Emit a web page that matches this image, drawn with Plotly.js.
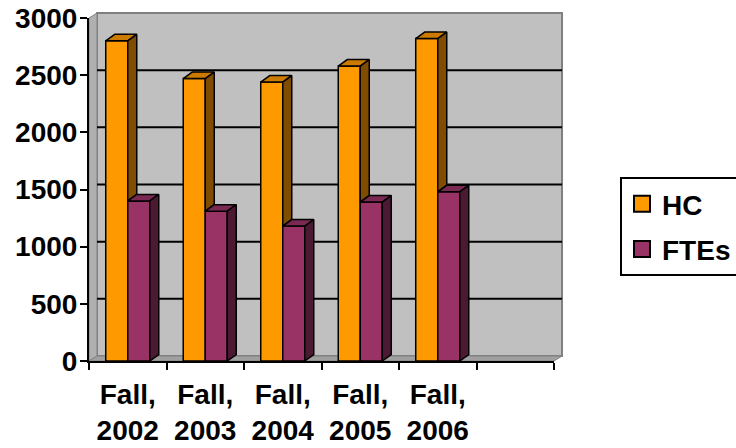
<!DOCTYPE html>
<html>
<head>
<meta charset="utf-8">
<script src="https://cdn.plot.ly/plotly-3.0.1.min.js"></script>
<style>html,body{margin:0;padding:0;background:#fff;}#chart{width:736px;height:448px;}</style>
</head>
<body>
<div id="chart"></div>
<script>
// ---- data ----
const categories = ['Fall, 2002', 'Fall, 2003', 'Fall, 2004', 'Fall, 2005', 'Fall, 2006'];
const hcValues  = [2800, 2470, 2440, 2580, 2820];
const fteValues = [1400, 1310, 1180, 1390, 1480];
const seriesNames = ['HC', 'FTEs'];
const yTickValues = [0, 500, 1000, 1500, 2000, 2500, 3000];

// ---- styling / geometry ----
const W = 736, H = 448;
const M = {l: 89, r: 182, t: 18, b: 87};
const plotW = W - M.l - M.r, plotH = H - M.t - M.b;
const slots = categories.length + 1;           // one empty slot at the right
const yMax = 3000;
const bargap = 0.432;
const halfW = (1 - bargap) / 2;                // width of one bar in data units
const pxX = slots / plotW, pxY = yMax / plotH; // data units per pixel
const barDX = 9 * pxX, barDY = 6.5 * pxY;      // bar depth
const wallDX = 8 / plotW, wallDY = 5 / plotH;  // wall depth (paper units)
const wallDYdata = 5 * pxY;

const colHC = '#FF9900', colHCtop = '#CC7A00', colHCside = '#7F4C00';
const colFT = '#993366', colFTtop = '#7A2952', colFTside = '#4C1933';
const font = {family: 'Liberation Sans, Arial, sans-serif', size: 28, color: '#000', weight: 'bold'};

const xs = categories.map((_, i) => i);
const traces = [
  {type: 'bar', x: xs, y: hcValues, name: seriesNames[0], showlegend: false, hoverinfo: 'skip',
   marker: {color: colHC, line: {color: '#000', width: 1.5}}},
  {type: 'bar', x: xs, y: fteValues, name: seriesNames[1], showlegend: false, hoverinfo: 'skip',
   marker: {color: colFT, line: {color: '#000', width: 1.5}}}
];
function face(px, py, color) {
  traces.push({type: 'scatter', mode: 'lines', x: px.concat([px[0]]), y: py.concat([py[0]]),
    fill: 'toself', fillcolor: color, line: {color: '#000', width: 1.5},
    showlegend: false, hoverinfo: 'skip'});
}
xs.forEach(i => {
  const h = hcValues[i], f = fteValues[i];
  // HC top
  face([i - halfW, i, i + barDX, i - halfW + barDX], [h, h, h + barDY, h + barDY], colHCtop);
  // HC side (visible part above FTE bar)
  face([i, i + barDX, i + barDX, i], [f, f + barDY, h + barDY, h], colHCside);
  // FTE top
  face([i, i + halfW, i + halfW + barDX, i + barDX], [f, f, f + barDY, f + barDY], colFTtop);
  // FTE side
  face([i + halfW, i + halfW + barDX, i + halfW + barDX, i + halfW], [0, barDY, f + barDY, f], colFTside);
});
// legend entries
[[seriesNames[0], colHC], [seriesNames[1], colFT]].forEach(([n, c], k) => {
  traces.push({type: 'scatter', mode: 'markers', x: [null], y: [null], name: n, legendgroup: 'g' + k,
    marker: {symbol: 'square', size: 16, color: c, line: {color: '#000', width: 2}}, hoverinfo: 'skip'});
});

const shapes = [];
// back wall
shapes.push({type: 'rect', xref: 'paper', yref: 'paper', layer: 'below',
  x0: wallDX, x1: 1 + wallDX, y0: wallDY, y1: 1 + wallDY,
  fillcolor: '#C0C0C0', line: {color: '#808080', width: 2}});
// left wall
shapes.push({type: 'path', xref: 'paper', yref: 'paper', layer: 'below',
  path: `M0,0 L${wallDX},${wallDY} L${wallDX},${1 + wallDY} L0,1 Z`,
  fillcolor: '#B0B0B0', line: {color: '#808080', width: 1}});
// floor
shapes.push({type: 'path', xref: 'paper', yref: 'paper', layer: 'below',
  path: `M0,0 L1,0 L${1 + wallDX},${wallDY} L${wallDX},${wallDY} Z`,
  fillcolor: '#A0A0A0', line: {color: '#808080', width: 1}});
// gridlines on back wall
yTickValues.filter(v => v > 0 && v < yMax).forEach(v => {
  shapes.push({type: 'line', xref: 'paper', yref: 'y', layer: 'below',
    x0: wallDX, x1: 1 + wallDX, y0: v + wallDYdata, y1: v + wallDYdata,
    line: {color: '#000', width: 2}});
});

const boundaries = [];
for (let i = 0; i <= slots; i++) boundaries.push(i - 0.5);

const layout = {
  width: W, height: H,
  margin: {l: M.l, r: M.r, t: M.t, b: M.b, pad: 0, autoexpand: false},
  paper_bgcolor: '#fff', plot_bgcolor: 'rgba(0,0,0,0)',
  font: font,
  barmode: 'group', bargap: bargap, bargroupgap: 0,
  showlegend: true,
  xaxis: {type: 'linear', range: [-0.5, slots - 0.5], tickmode: 'array', tickvals: xs,
    ticktext: categories.map(c => c.replace(', ', ',<br>')), ticks: '',
    showgrid: false, zeroline: false, showline: true, linecolor: '#000', linewidth: 2,
    tickfont: font, ticklabelstandoff: 7, fixedrange: true,
    minor: {tickmode: 'array', tickvals: boundaries, ticks: 'outside', ticklen: 7, tickwidth: 2, tickcolor: '#000', showgrid: false}},
  yaxis: {range: [0, yMax], tickmode: 'array', tickvals: yTickValues, ticks: 'outside', ticklen: 7,
    tickwidth: 2, tickcolor: '#000', showgrid: false, zeroline: false, showline: true,
    linecolor: '#000', linewidth: 2, tickfont: font, ticklabelstandoff: -3, fixedrange: true},
  legend: {x: (620 - M.l) / plotW, xanchor: 'left', y: (H - M.b - 177) / plotH, yanchor: 'top',
    bordercolor: '#000', borderwidth: 2, bgcolor: '#fff', font: font,
    traceorder: 'grouped', tracegroupgap: 6},
  shapes: shapes
};
Plotly.newPlot('chart', traces, layout, {displayModeBar: false, staticPlot: true});
</script>
</body>
</html>
